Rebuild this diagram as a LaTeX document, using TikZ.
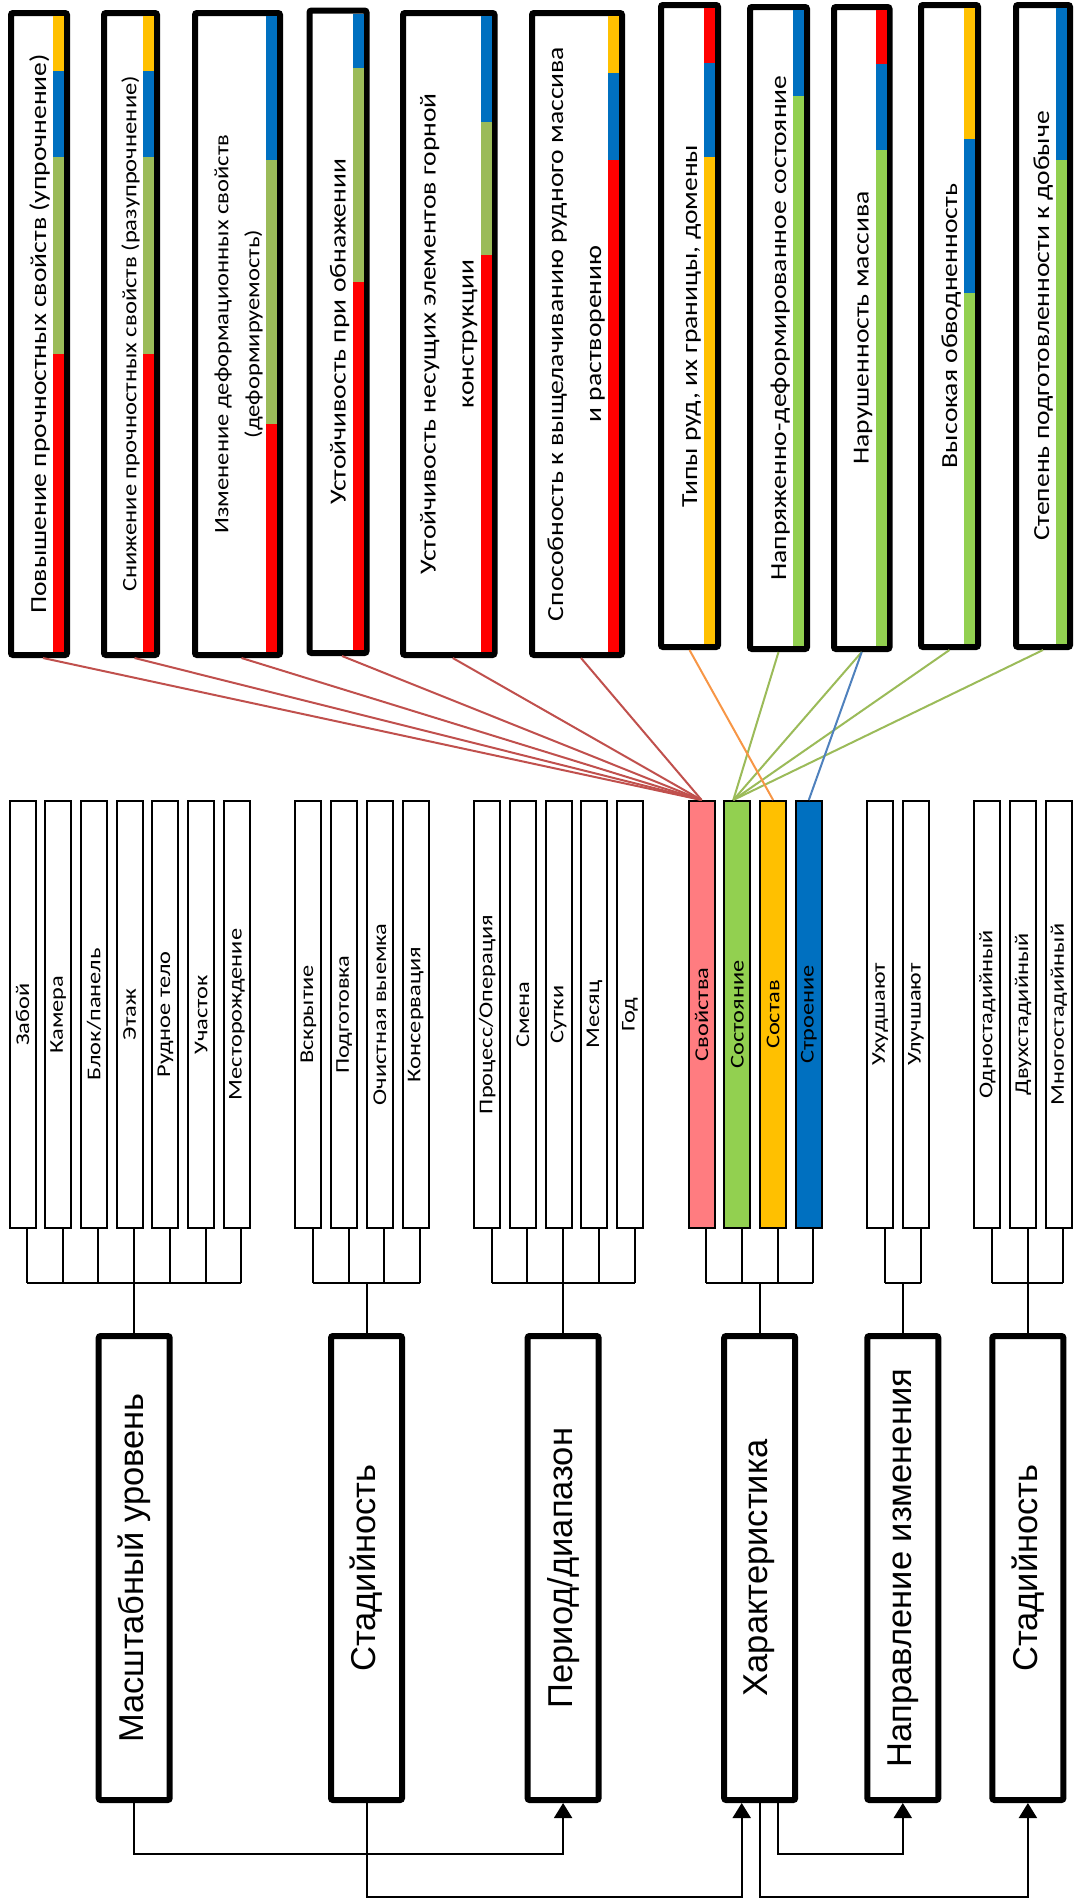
\documentclass[tikz,border=0pt]{standalone}
\usepackage{fontspec}
\usepackage{graphicx}
\setmainfont{Carlito}
\newfontfamily\lblfont{Carlito}[FakeStretch=1.25]
\newfontfamily\topfont{Carlito}[FakeStretch=1.2]
\newfontfamily\bigfont{Liberation Sans}
\usepackage{tikz}
\usetikzlibrary{positioning,arrows.meta,calc}
\definecolor{conred}{HTML}{C0504D}
\definecolor{conorange}{HTML}{F79646}
\definecolor{congreen}{HTML}{9BBB59}
\definecolor{conblue}{HTML}{4F81BD}
\definecolor{stred}{HTML}{FF0000}
\definecolor{styellow}{HTML}{FFC000}
\definecolor{stblue}{HTML}{0070C0}
\definecolor{stolive}{HTML}{9BBB59}
\definecolor{stgreen}{HTML}{92D050}
\definecolor{fillpink}{HTML}{FF7C80}

\begin{document}
\begin{tikzpicture}[x=1pt, y=-1pt,
    smallbox/.style={draw, line width=2pt, minimum width=26pt, minimum height=427pt,
      inner sep=0pt, font=\lblfont\fontsize{19.5}{23}\selectfont},
    bigbox/.style={draw, line width=6pt, rounded corners=2pt, minimum width=71pt,
      minimum height=464pt, inner sep=0pt, font=\bigfont\fontsize{34.5}{40}\selectfont},
    topbox/.style={draw, line width=6pt, rounded corners=2pt, minimum height=642pt, inner sep=0pt},
    toptext/.style={rotate=90, anchor=south, align=center, inner sep=0pt,
      font=\topfont\fontsize{23}{38}\selectfont},
    conn/.style={line width=2pt},
    arr/.style={-{Triangle[width=18pt,length=15pt]}},
    link/.style={line width=2pt}]
  \useasboundingbox (0,0) rectangle (1075,1903);

  % Top boxes
  \node[topbox, minimum width=56pt] (pov) at (39,334) {};
  \node[topbox, minimum width=53pt] (sniz) at (130.5,334) {};
  \node[topbox, minimum width=85pt] (izm) at (237.5,334) {};
  \node[topbox, minimum width=57pt, minimum height=642.5pt] (ustob) at (338,331.75) {};
  \node[topbox, minimum width=91.5pt] (ustnes) at (448.75,334) {};
  \node[topbox, minimum width=90pt] (spos) at (577,334) {};
  \node[topbox, minimum width=57pt] (tipy) at (689.5,326) {};
  \node[topbox, minimum width=57pt] (ndsost) at (778.5,328) {};
  \node[topbox, minimum width=55.5pt] (narush) at (861.75,328) {};
  \node[topbox, minimum width=57pt] (obvod) at (949.5,326) {};
  \node[topbox, minimum width=54pt] (stepen) at (1043,326) {};

  % Colour stripes
  \foreach \c/\a/\b in {styellow/16/70.5, stblue/70.5/157, stolive/157/354, stred/354/652}
    \fill[\c] (53,\a) rectangle (64,\b);
  \foreach \c/\a/\b in {styellow/16/70.5, stblue/70.5/157, stolive/157/354, stred/354/652}
    \fill[\c] (143,\a) rectangle (154,\b);
  \foreach \c/\a/\b in {stblue/16/160, stolive/160/424, stred/424/652}
    \fill[\c] (266,\a) rectangle (277,\b);
  \foreach \c/\a/\b in {stblue/13.5/68, stolive/68/282, stred/282/650}
    \fill[\c] (352.5,\a) rectangle (363.5,\b);
  \foreach \c/\a/\b in {stblue/16/122, stolive/122/255, stred/255/652}
    \fill[\c] (480.5,\a) rectangle (491.5,\b);
  \foreach \c/\a/\b in {styellow/16/73, stblue/73/160, stred/160/652}
    \fill[\c] (608,\a) rectangle (619,\b);
  \foreach \c/\a/\b in {stred/8/63, stblue/63/157, styellow/157/644}
    \fill[\c] (704,\a) rectangle (715,\b);
  \foreach \c/\a/\b in {stblue/10/96, stgreen/96/646}
    \fill[\c] (793,\a) rectangle (804,\b);
  \foreach \c/\a/\b in {stred/10/64, stblue/64/150, stgreen/150/646}
    \fill[\c] (875.5,\a) rectangle (886.5,\b);
  \foreach \c/\a/\b in {styellow/8/139, stblue/139/293, stgreen/293/644}
    \fill[\c] (964,\a) rectangle (975,\b);
  \foreach \c/\a/\b in {stblue/8/160, stgreen/160/644}
    \fill[\c] (1056,\a) rectangle (1067,\b);

  % Top texts
  \node[toptext] (povt) at ($(pov.east)+(-20,0)$) {Повышение прочностных свойств (упрочнение)};
  \node[toptext, font=\topfont\fontsize{20.5}{31}\selectfont] (snizt) at ($(sniz.east)+(-20,0)$)
    {Снижение прочностных свойств (разупрочнение)};
  \node[toptext, font=\topfont\fontsize{20.5}{31}\selectfont] (izmt) at ($(izm.east)+(-20,0)$)
    {Изменение деформационных свойств\\(деформируемость)};
  \node[toptext] (ustobt) at ($(ustob.east)+(-20,0)$) {Устойчивость при обнажении};
  \node[toptext] (ustnest) at ($(ustnes.east)+(-20,0)$) {Устойчивость несущих элементов горной\\конструкции};
  \node[toptext] (spost) at ($(spos.east)+(-20,0)$) {Способность к выщелачиванию рудного массива\\и растворению};
  \node[toptext] (tipyt) at ($(tipy.east)+(-20,0)$) {Типы руд, их границы, домены};
  \node[toptext] (ndsostt) at ($(ndsost.east)+(-20,0)$) {Напряженно-деформированное состояние};
  \node[toptext] (narusht) at ($(narush.east)+(-20,0)$) {Нарушенность массива};
  \node[toptext] (obvodt) at ($(obvod.east)+(-20,0)$) {Высокая обводненность};
  \node[toptext] (stepent) at ($(stepen.east)+(-20,0)$) {Степень подготовленности к добыче};

  % Small boxes
  \foreach \i/\n/\t in {0/zab/Забой, 1/kam/Камера, 2/blok/{Блок/панель}, 3/etazh/Этаж,
      4/rud/Рудное тело, 5/uch/Участок, 6/mest/Месторождение,
      8/vskr/Вскрытие, 9/podg/Подготовка, 10/ochist/Очистная выемка, 11/kons/Консервация,
      13/proc/{Процесс/Операция}, 14/smena/Смена, 15/sutki/Сутки, 16/mes/Месяц, 17/god/Год,
      24/ukh/Ухудшают, 25/ulu/Улучшают,
      27/odno/Одностадийный, 28/dvukh/Двухстадийный, 29/mnogo/Многостадийный}
    \node[smallbox] (\n) at (22.5+35.74*\i,1014.5) {\rotatebox{90}{\t}};
  \node[smallbox, fill=fillpink] (svoy) at (701.6,1014.5) {\rotatebox{90}{Свойства}};
  \node[smallbox, fill=stgreen] (sost) at (737.3,1014.5) {\rotatebox{90}{Состояние}};
  \node[smallbox, fill=styellow] (sostav) at (773.1,1014.5) {\rotatebox{90}{Состав}};
  \node[smallbox, fill=stblue] (stroen) at (808.8,1014.5) {\rotatebox{90}{Строение}};

  % Big boxes
  \node[bigbox] (masht) at (134.2,1568) {\rotatebox{90}{Масштабный уровень}};
  \node[bigbox] (stad) at (366.5,1568) {\rotatebox{90}{Стадийность}};
  \node[bigbox] (period) at (563.1,1568) {\rotatebox{90}{Период/диапазон}};
  \node[bigbox] (khar) at (759.7,1568) {\rotatebox{90}{Характеристика}};
  \node[bigbox] (napr) at (902.8,1568) {\rotatebox{90}{Направление изменения}};
  \node[bigbox] (stad2) at (1027.9,1568) {\rotatebox{90}{Стадийность}};

  % Stubs and buses
  \foreach \n in {zab,kam,blok,etazh,rud,uch,mest,vskr,podg,ochist,kons,
      proc,smena,sutki,mes,god,svoy,sost,sostav,stroen,ukh,ulu,odno,dvukh,mnogo}
    \draw[conn] ([xshift=4.5pt]\n.south) -- ++(0,54);
  \draw[conn] ([xshift=4.5pt,yshift=-54pt]zab.south) -- ([xshift=4.5pt,yshift=-54pt]mest.south);
  \draw[conn] ([xshift=4.5pt,yshift=-54pt]vskr.south) -- ([xshift=4.5pt,yshift=-54pt]kons.south);
  \draw[conn] ([xshift=4.5pt,yshift=-54pt]proc.south) -- ([xshift=4.5pt,yshift=-54pt]god.south);
  \draw[conn] ([xshift=4.5pt,yshift=-54pt]svoy.south) -- ([xshift=4.5pt,yshift=-54pt]stroen.south);
  \draw[conn] ([xshift=4.5pt,yshift=-54pt]ukh.south) -- ([xshift=4.5pt,yshift=-54pt]ulu.south);
  \draw[conn] ([xshift=4.5pt,yshift=-54pt]odno.south) -- ([xshift=4.5pt,yshift=-54pt]mnogo.south);
  \foreach \n in {masht,stad,period,khar,napr,stad2}
    \draw[conn] (\n.north) -- ++(0,-50);

  % Bottom arrows
  \draw[conn, arr] (masht.south) -- ++(0,51) -| (period.south);
  \draw[conn, arr] (stad.south) -- ++(0,94) -| ([xshift=-18pt]khar.south);
  \draw[conn, arr] (khar.south) -- ++(0,94) -| (stad2.south);
  \draw[conn, arr] ([xshift=18pt]khar.south) -- ++(0,51) -| (napr.south);

  % Links to characteristics
  \foreach \n in {pov,sniz,izm,ustob,ustnes,spos}
    \draw[link, conred] ([xshift=4pt]\n.south) -- (svoy.north);
  \foreach \n in {ndsost,narush,obvod,stepen}
    \draw[link, congreen] (\n.south) -- ([xshift=-4pt]sost.north);
  \draw[link, conorange] (tipy.south) -- (sostav.north);
  \draw[link, conblue] (narush.south) -- (stroen.north);
\end{tikzpicture}
\end{document}
